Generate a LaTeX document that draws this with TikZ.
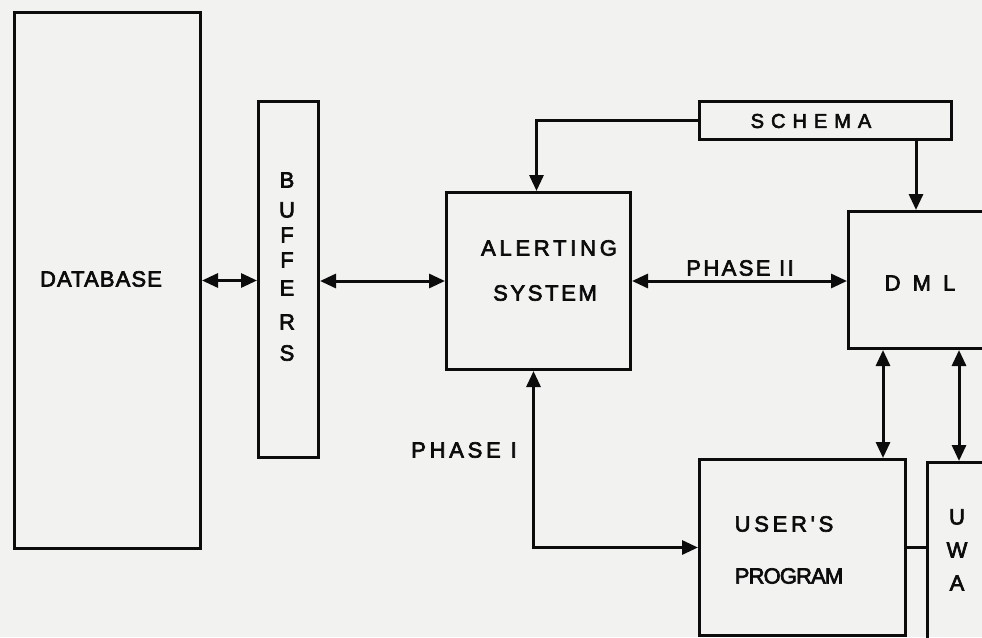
\documentclass[tikz,border=0pt]{standalone}
\usepackage{fontspec}
\setmainfont{Liberation Sans}
\newfontfamily\hand{Liberation Sans}[FakeBold=3]
\usetikzlibrary{arrows.meta,calc}
\definecolor{paper}{RGB}{242,242,241}
\definecolor{ink}{RGB}{12,12,12}
\begin{document}
\begin{tikzpicture}[x=1pt,y=-1pt,
  >={Triangle[length=16pt,width=14pt]},
  box/.style={draw=ink, line width=3pt, inner sep=0pt, anchor=north west},
  lbl/.style={text=ink, font=\hand\fontsize{22}{26}\selectfont, inner sep=0pt},
  conn/.style={draw=ink, line width=3pt}]
\fill[paper] (0,0) rectangle (982,637);
\clip (0,0) rectangle (982,637);
% boxes
\node[box, minimum width=186pt, minimum height=536pt] (db) at (13,11) {};
\node[box, minimum width=60pt, minimum height=356pt] (buf) at (257,100) {};
\node[box, minimum width=184pt, minimum height=177pt] (alert) at (445,191) {};
\node[box, minimum width=252pt, minimum height=38pt] (schema) at (698,100) {};
\node[box, minimum width=143pt, minimum height=137pt] (dml) at (847,210) {};
\node[box, minimum width=206pt, minimum height=176pt] (user) at (698,458) {};
\node[box, minimum width=64pt, minimum height=200pt] (uwa) at (926,461) {};
% labels
\node[lbl] (tdb) at (101,279) {\addfontfeature{LetterSpace=5}DATABASE};
\node[lbl] (b1) at (287,180) {B};
\node[lbl] (b2) at (287,210) {U};
\node[lbl] (b3) at (287,235) {F};
\node[lbl] (b4) at (287,260) {F};
\node[lbl] (b5) at (287,288) {E};
\node[lbl] (b6) at (287,322) {R};
\node[lbl] (b7) at (287,353) {S};
\node[lbl] (ta1) at (549,248) {\addfontfeature{LetterSpace=17}ALERTING};
\node[lbl] (ta2) at (545,293) {\addfontfeature{LetterSpace=12}SYSTEM};
\node[lbl, font=\hand\fontsize{20}{24}\selectfont] (tsch) at (811,121) {\addfontfeature{LetterSpace=35}SCHEMA};
\node[lbl] (tdml) at (920,283) {\addfontfeature{LetterSpace=55}DML};
\node[lbl] (tus1) at (784,524) {\addfontfeature{LetterSpace=17}USER'S};
\node[lbl] (tus2) at (789,576) {\addfontfeature{LetterSpace=-4}PROGRAM};
\node[lbl] (u1) at (957,517) {U};
\node[lbl] (u2) at (957,550) {W};
\node[lbl] (u3) at (957,583) {A};
\node[lbl] (ph2) at (740,268) {\addfontfeature{LetterSpace=11}PHASE II};
\node[lbl] (ph1) at (464,450) {\addfontfeature{LetterSpace=17}PHASE I};
% connectors
\draw[conn,<->] (db.east) -- (db.east -| buf.west);
\draw[conn,<->] (buf.east |- alert.west) -- (alert.west);
\draw[conn,<->] (alert.east) -- (alert.east -| dml.west);
\draw[conn,->] (schema.west) -| ([xshift=-2pt]alert.north);
\draw[conn,->] ([xshift=-37pt]schema.south east) -- ([xshift=-37pt]schema.south east |- dml.north);
\draw[conn,<->] ([xshift=-24pt]user.north east |- dml.south) -- ([xshift=-24pt]user.north east);
\draw[conn,<->] ([xshift=33pt]uwa.north west |- dml.south) -- ([xshift=33pt]uwa.north west);
\draw[conn,<->] ([xshift=-5pt]alert.south) |- (user.west);
\draw[conn] (user.east) -- (user.east -| uwa.west);
\end{tikzpicture}
\end{document}
